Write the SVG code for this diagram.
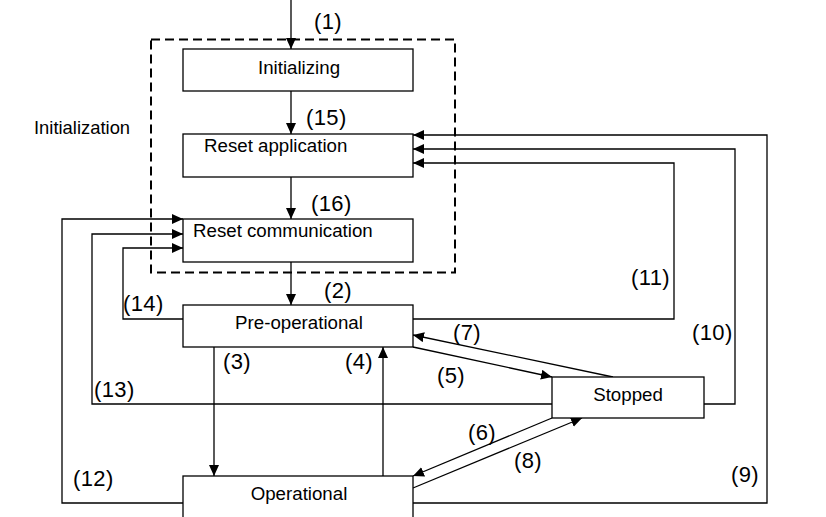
<svg xmlns="http://www.w3.org/2000/svg" width="826" height="517" viewBox="0 0 826 517">
<style>
.node rect{fill:#fff;stroke:#000;stroke-width:1.3}
.node text{font-family:"Liberation Sans",Arial,sans-serif;font-size:18.7px;fill:#000}
.conn path{fill:none;stroke:#000;stroke-width:1.3;marker-end:url(#arr)}
.lbl{font-family:"Liberation Sans",Arial,sans-serif;font-size:22px;letter-spacing:0.4px;fill:#000}
.plain{font-family:"Liberation Sans",Arial,sans-serif;font-size:18.4px;fill:#000}
</style>
<defs>
<marker id="arr" markerUnits="userSpaceOnUse" markerWidth="12" markerHeight="10" refX="11" refY="5" orient="auto">
<path d="M0,0 L11,5 L0,10 Z" fill="#000"/>
</marker>
</defs>
<rect width="826" height="517" fill="#fff"/>
<g id="initialization-group">
<rect x="151" y="39.5" width="304" height="233" fill="none" stroke="#000" stroke-width="2" stroke-dasharray="9 5"/>
<text class="plain" x="34" y="134">Initialization</text>
</g>
<g class="conn" id="connectors">
<path d="M291,0 V49"/>
<path d="M291,91 V134"/>
<path d="M291,177 V219"/>
<path d="M291,262 V305"/>
<path d="M214,347 V476"/>
<path d="M383,476 V347"/>
<path d="M413,347 L552,377"/>
<path d="M613,377 L413,335"/>
<path d="M552,418 L413,476"/>
<path d="M413,488 L582,418"/>
<path d="M413,503 H767 V135 H413"/>
<path d="M704,404 H735 V149 H413"/>
<path d="M413,319 H674 V163 H413"/>
<path d="M183,503 H62 V219 H183"/>
<path d="M552,404 H92 V234 H183"/>
<path d="M183,319 H123 V248 H183"/>
</g>
<g id="initializing" class="node"><rect x="183" y="49" width="230" height="42"/><text x="299" y="74" text-anchor="middle">Initializing</text></g>
<g id="reset-application" class="node"><rect x="183" y="134" width="230" height="43"/><text x="204" y="152">Reset application</text></g>
<g id="reset-communication" class="node"><rect x="183" y="219" width="230" height="43"/><text x="193" y="237">Reset communication</text></g>
<g id="pre-operational" class="node"><rect x="183" y="305" width="230" height="42"/><text x="299" y="329" text-anchor="middle">Pre-operational</text></g>
<g id="operational" class="node"><rect x="183" y="476" width="230" height="60"/><text x="299" y="500" text-anchor="middle">Operational</text></g>
<g id="stopped" class="node"><rect x="552" y="377" width="152" height="41"/><text x="628" y="401" text-anchor="middle">Stopped</text></g>
<g id="labels">
<text class="lbl" x="314" y="29">(1)</text>
<text class="lbl" x="306" y="125">(15)</text>
<text class="lbl" x="311" y="211">(16)</text>
<text class="lbl" x="324" y="298">(2)</text>
<text class="lbl" x="123" y="311">(14)</text>
<text class="lbl" x="223" y="369">(3)</text>
<text class="lbl" x="345" y="369">(4)</text>
<text class="lbl" x="94" y="397">(13)</text>
<text class="lbl" x="73" y="486">(12)</text>
<text class="lbl" x="453" y="340">(7)</text>
<text class="lbl" x="437" y="383">(5)</text>
<text class="lbl" x="631" y="285">(11)</text>
<text class="lbl" x="692" y="340">(10)</text>
<text class="lbl" x="468" y="440">(6)</text>
<text class="lbl" x="514" y="468">(8)</text>
<text class="lbl" x="731" y="482">(9)</text>
</g>
</svg>
